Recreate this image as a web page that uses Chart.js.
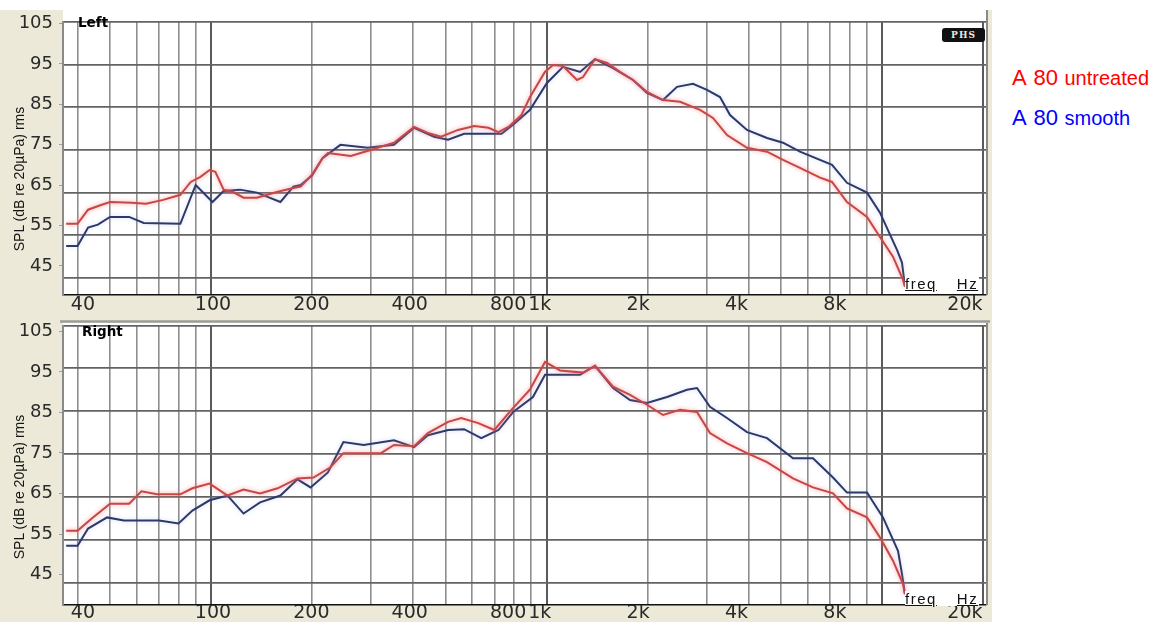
<!DOCTYPE html>
<html>
<head>
<meta charset="utf-8">
<script src="https://cdn.jsdelivr.net/npm/chart.js@4.4.1/dist/chart.umd.min.js"></script>
<style>
  html, body { margin: 0; padding: 0; background: #fff; }
  body { position: relative; width: 1165px; height: 626px; overflow: hidden; font-family: "Liberation Sans", Arial, sans-serif; }
  #frame { position: absolute; left: 0; top: 10px; width: 992px; height: 612px; background: #ece9d8; }
  canvas { position: absolute; left: 0; }
  #cTop { top: 0; }
  #cBot { top: 320px; }
  .ytitle { position: absolute; left: 19px; width: 0; height: 0; }
  .ytitle span { position: absolute; left: 0; top: 0; transform: translate(-50%, -50%) rotate(-90deg); white-space: nowrap; font-size: 14px; color: #151515; }
  .chan { position: absolute; font-family: "DejaVu Sans", sans-serif; font-weight: bold; font-size: 13.5px; color: #000; line-height: 1; }
  .phs { position: absolute; left: 942px; top: 28px; width: 43px; height: 14px; background: #111; border-radius: 3px; color: #e8e8e8; font-family: "DejaVu Serif", serif; font-weight: bold; font-size: 9px; line-height: 14px; text-align: center; letter-spacing: 1px; }
  .freq { position: absolute; left: 905px; font-size: 15px; color: #111; line-height: 1; background: #fff; padding-right: 1px; letter-spacing: 1.5px; text-decoration: underline; white-space: nowrap; }
  .freq span + span { margin-left: 20px; }
  .leg { position: absolute; left: 1012px; white-space: nowrap; line-height: 1; word-spacing: 2px; }
  .leg b { font-weight: normal; font-size: 22px; }
  .leg i { font-style: normal; font-size: 20px; }
</style>
</head>
<body>
<div id="frame"></div>
<canvas id="cTop" width="992" height="320"></canvas>
<canvas id="cBot" width="992" height="306"></canvas>

<div class="ytitle" style="top:179px"><span>SPL (dB re 20µPa) rms</span></div>
<div class="ytitle" style="top:487px"><span>SPL (dB re 20µPa) rms</span></div>

<div class="chan" style="left:78px;top:16px">Left</div>
<div class="chan" style="left:82px;top:325px">Right</div>
<div class="phs">PHS</div>
<div class="freq" style="top:276px"><span>freq</span><span>Hz</span></div>
<div class="freq" style="top:591px"><span>freq</span><span>Hz</span></div>

<div class="leg" style="top:67px;color:#ff0000"><b>A 80</b> <i>untreated</i></div>
<div class="leg" style="top:107px;color:#0000ff"><b>A 80</b> <i>smooth</i></div>

<script>
// Frequency grid lines, labelled frequencies and level ticks
const gridHz = [40, 50, 60, 70, 80, 90, 100, 200, 300, 400, 500, 600, 700, 800, 900,
                1000, 2000, 3000, 4000, 5000, 6000, 7000, 8000, 9000, 10000, 20000];
const labelHz = [40, 100, 200, 400, 800, 1000, 2000, 4000, 8000, 20000];
const labelText = ['40', '100', '200', '400', '800', '1k', '2k', '4k', '8k', '20k'];
const dbTicks = [45, 55, 65, 75, 85, 95, 105];

// Left channel, untreated room
const leftUntreatedHz = [37, 40, 43, 47, 50, 58, 64, 72, 81, 87, 93, 99, 103, 109, 116, 125, 137, 158, 176, 185,
  200, 215, 223, 261, 299, 351, 403, 443, 485, 545, 609, 671, 719, 770, 842, 893, 989, 1046, 1120, 1233,
  1285, 1395, 1515, 1656, 1811, 1993, 2225, 2500, 2868, 3135, 3452, 3959, 4542, 5069, 5695, 6535, 7096,
  7864, 9022, 9864, 10784, 11549, 11707];
const leftUntreatedDb = [57.7, 57.7, 61.0, 62.1, 62.8, 62.6, 62.4, 63.3, 64.5, 67.5, 68.7, 70.3, 69.9, 65.7, 65.2,
  63.8, 63.8, 65.2, 66.1, 66.4, 69.2, 73.1, 74.3, 73.6, 75.0, 76.7, 80.4, 79.0, 78.1, 79.7, 80.6, 80.2, 79.2,
  80.4, 83.2, 87.4, 93.3, 94.9, 94.7, 91.4, 92.1, 96.3, 95.4, 93.3, 91.4, 88.6, 86.7, 86.3, 84.4, 82.5, 78.5,
  75.5, 74.6, 72.7, 70.8, 68.5, 67.5, 62.8, 59.3, 54.6, 50.0, 44.6, 43.0];

// Left channel, smoothed
const leftSmoothHz = [37, 40, 43, 46, 50, 57, 63, 81, 90, 101, 109, 122, 137, 161, 176, 185, 200, 215, 243, 293,
  351, 403, 462, 509, 568, 671, 734, 795, 893, 1003, 1120, 1259, 1395, 1579, 1811, 1993, 2225, 2449, 2733,
  3008, 3290, 3524, 3959, 4542, 5069, 5695, 7096, 7864, 9022, 9864, 11084, 11470, 11707];
const leftSmoothDb = [52.5, 52.5, 56.8, 57.5, 59.3, 59.3, 57.9, 57.7, 66.8, 62.8, 65.4, 65.7, 65.0, 62.8, 66.4,
  66.8, 69.0, 73.1, 76.2, 75.5, 76.2, 80.2, 78.1, 77.4, 78.8, 78.8, 78.8, 80.9, 84.4, 90.7, 94.5, 93.3, 96.3,
  94.2, 91.4, 88.4, 86.7, 89.8, 90.5, 89.1, 87.4, 83.2, 79.7, 77.8, 76.7, 74.6, 71.5, 67.3, 65.0, 60.3, 51.6,
  48.6, 43.0];

// Right channel, untreated room
const rightUntreatedHz = [37, 40, 44, 50, 57, 62, 69, 81, 88, 99, 112, 125, 140, 158, 181, 202, 227, 248, 279, 321,
  351, 403, 443, 509, 557, 626, 699, 786, 892, 990, 1097, 1285, 1395, 1579, 1774, 1993, 2225, 2500, 2809,
  3071, 3452, 3959, 4542, 5428, 6228, 7145, 7864, 9022, 9864, 10784, 11549, 11707];
const rightUntreatedDb = [57.1, 57.1, 59.9, 63.4, 63.4, 66.3, 65.6, 65.6, 67.0, 68.1, 65.3, 66.7, 65.8, 67.0, 69.3,
  69.5, 71.9, 75.2, 75.2, 75.2, 77.1, 76.8, 79.9, 82.5, 83.4, 82.2, 80.6, 85.3, 90.0, 96.5, 94.5, 94.0, 95.6,
  90.7, 88.8, 86.5, 84.1, 85.3, 84.8, 79.9, 77.5, 75.2, 73.1, 69.3, 67.2, 65.8, 62.3, 60.2, 55.5, 50.1, 44.7, 42.3];

// Right channel, smoothed
const rightSmoothHz = [37, 40, 43, 49, 55, 70, 80, 88, 99, 112, 125, 140, 161, 181, 198, 223, 248, 285, 351, 403,
  443, 509, 568, 639, 719, 795, 911, 990, 1259, 1395, 1579, 1774, 1993, 2287, 2623, 2809, 3071, 3452, 3959,
  4542, 5428, 6228, 7145, 7864, 9022, 10069, 11160, 11470, 11707];
const rightSmoothDb = [53.6, 53.6, 57.6, 60.2, 59.5, 59.5, 58.8, 61.8, 64.2, 65.3, 61.1, 63.7, 65.3, 69.1, 67.2,
  70.7, 77.8, 77.1, 78.2, 76.6, 79.4, 80.6, 80.8, 78.7, 80.6, 84.8, 88.3, 93.5, 93.5, 95.6, 90.4, 87.6, 86.9,
  88.3, 90.0, 90.4, 86.0, 83.4, 80.1, 78.7, 74.0, 74.0, 69.5, 66.0, 66.0, 60.2, 52.4, 47.0, 42.3];

const seriesNames = ['A 80 untreated', 'A 80 smooth'];
const seriesColors = ['#c44848', '#2e3a66'];
const haloColors = ['rgba(255,120,120,0.75)', 'rgba(130,150,255,0.35)'];
const darkGridHz = [100, 1000, 10000, 20000];

const pairs = (hz, db) => hz.map((f, i) => ({ x: f, y: db[i] }));

// White plot field, top rule and right frame line for each panel
const panelFrame = {
  id: 'panelFrame',
  beforeDraw(chart, args, opts) {
    const { ctx, chartArea: a } = chart;
    ctx.save();
    ctx.fillStyle = '#fff';
    ctx.fillRect(a.left, opts.whiteTop, a.right - a.left, a.bottom - opts.whiteTop);
    if (opts.topRule != null) {
      ctx.strokeStyle = '#9d9d9d';
      ctx.lineWidth = 2.5;
      ctx.beginPath();
      ctx.moveTo(a.left - 3, opts.topRule);
      ctx.lineTo(a.right + 4, opts.topRule);
      ctx.stroke();
    }
    ctx.restore();
  },
  afterDraw(chart, args, opts) {
    const { ctx, chartArea: a } = chart;
    ctx.save();
    ctx.strokeStyle = '#8a8a8a';
    ctx.lineWidth = 2;
    ctx.beginPath();
    ctx.moveTo(a.right + 1, opts.whiteTop);
    ctx.lineTo(a.right + 1, a.bottom);
    ctx.stroke();
    ctx.restore();
  }
};

// Soft glow around each trace
const lineHalo = {
  id: 'lineHalo',
  beforeDatasetDraw(chart, args) {
    const ds = chart.data.datasets[args.index];
    chart.ctx.save();
    chart.ctx.shadowColor = ds.haloColor;
    chart.ctx.shadowBlur = 4;
  },
  afterDatasetDraw(chart) {
    chart.ctx.restore();
  }
};

function makePanel(id, p) {
  const tickFont = { family: 'DejaVu Sans', size: 18 };
  return new Chart(document.getElementById(id), {
    type: 'line',
    data: {
      datasets: [
        { label: seriesNames[0], data: p.untreated, borderColor: seriesColors[0], haloColor: haloColors[0],
          borderWidth: 2, pointRadius: 0, tension: 0, fill: false },
        { label: seriesNames[1], data: p.smooth, borderColor: seriesColors[1], haloColor: haloColors[1],
          borderWidth: 2, pointRadius: 0, tension: 0, fill: false }
      ]
    },
    options: {
      responsive: false,
      animation: false,
      events: [],
      layout: { padding: { top: p.padTop, right: 6, bottom: 0, left: 0 } },
      plugins: {
        legend: { display: false },
        tooltip: { enabled: false },
        panelFrame: { whiteTop: p.whiteTop, topRule: p.topRule }
      },
      scales: {
        x: {
          type: 'logarithmic', position: 'bottom', weight: 0,
          min: 36.2, max: 20420,
          afterBuildTicks: s => { s.ticks = gridHz.map(v => ({ value: v })); },
          afterFit: s => { s.height = 0; s.paddingLeft = 0; s.paddingRight = 0; },
          ticks: { display: false },
          grid: {
            drawTicks: false,
            color: c => (c.tick && darkGridHz.includes(c.tick.value)) ? '#5a5a5a' : '#8e8e8e',
            lineWidth: c => (c.tick && darkGridHz.includes(c.tick.value)) ? 2 : 1.6
          },
          border: { color: '#111', width: 1.5 }
        },
        xl: {
          type: 'logarithmic', position: 'bottom', weight: 1,
          min: 34.76, max: 23200,
          afterBuildTicks: s => { s.ticks = labelHz.map(v => ({ value: v })); },
          afterFit: s => { s.height = p.xlHeight; s.paddingLeft = 0; s.paddingRight = 0; },
          grid: { display: false, drawTicks: false },
          border: { display: false },
          ticks: {
            autoSkip: false, maxRotation: 0, minRotation: 0, padding: p.xlPad,
            color: '#2a2a2a', font: { family: 'DejaVu Sans', size: 19 },
            callback: v => { const i = labelHz.indexOf(v); return i >= 0 ? labelText[i] : ''; }
          }
        },
        y: {
          type: 'linear', position: 'left', weight: 0,
          min: p.yMin, max: 105,
          afterBuildTicks: s => { s.ticks = dbTicks.map(v => ({ value: v })); },
          afterFit: s => { s.width = 0; s.paddingTop = 0; s.paddingBottom = 0; },
          ticks: { display: false },
          grid: { drawTicks: false, color: '#636363', lineWidth: 1.8 },
          border: { color: '#8a8a8a', width: 2 }
        },
        yl: {
          type: 'linear', position: 'left', weight: 1,
          min: p.ylMin, max: p.ylMax,
          afterBuildTicks: s => { s.ticks = dbTicks.map(v => ({ value: v })); },
          afterFit: s => { s.width = 63; s.paddingTop = 0; s.paddingBottom = 0; },
          grid: { drawOnChartArea: false, drawTicks: true, tickLength: 4, color: '#a0a0a0' },
          border: { display: false },
          ticks: { padding: 6, color: '#2a2a2a', font: tickFont }
        }
      }
    },
    plugins: [panelFrame, lineHalo]
  });
}

makePanel('cTop', {
  untreated: pairs(leftUntreatedHz, leftUntreatedDb),
  smooth: pairs(leftSmoothHz, leftSmoothDb),
  padTop: 22, whiteTop: 10, topRule: null,
  yMin: 41.0, ylMin: 37.78, ylMax: 105.37,
  xlHeight: 25, xlPad: -1
});

makePanel('cBot', {
  untreated: pairs(rightUntreatedHz, rightUntreatedDb),
  smooth: pairs(rightSmoothHz, rightSmoothDb),
  padTop: 5.5, whiteTop: 3, topRule: 1.5,
  yMin: 39.75, ylMin: 37.47, ylMax: 106.48,
  xlHeight: 21, xlPad: -3
});
</script>
</body>
</html>
